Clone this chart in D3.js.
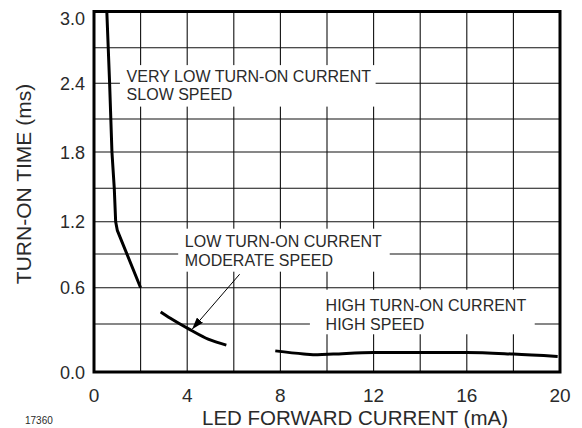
<!DOCTYPE html>
<html>
<head>
<meta charset="utf-8">
<script src="https://cdn.jsdelivr.net/npm/d3@7"></script>
<style>
  html, body { margin: 0; padding: 0; background: #fff; }
  svg { display: block; font-family: "Liberation Sans", Arial, Helvetica, sans-serif; }
</style>
</head>
<body>
<svg id="chart" width="582" height="428"></svg>
<script>
// ---- data ----
const xGrid = [0, 2, 4, 6, 8, 10, 12, 14, 16, 18, 20];
const yGrid = [0, 0.3, 0.6, 0.9, 1.2, 1.5, 1.8, 2.1, 2.4, 2.7, 3.0];
const xTickLabels = [0, 4, 8, 12, 16, 20];
const yTickLabels = [0, 0.6, 1.2, 1.8, 2.4, 3.0];

const veryLowCurrent = [[0.55, 3.0], [0.67, 2.4], [0.77, 1.8], [0.87, 1.5], [0.93, 1.2], [1.0, 1.12], [2.0, 0.6]];
const lowCurrent = [[2.86, 0.40], [3.28, 0.347], [4.14, 0.263], [4.9, 0.205], [5.68, 0.168]];
const highCurrent = [[7.78, 0.132], [9.0, 0.113], [9.6, 0.108], [10.27, 0.112], [12, 0.122], [16, 0.122], [18, 0.112], [19.9, 0.097]];

const annoLines1 = ["VERY LOW TURN-ON CURRENT", "SLOW SPEED"];
const annoLines2 = ["LOW TURN-ON CURRENT", "MODERATE SPEED"];
const annoLines3 = ["HIGH TURN-ON CURRENT", "HIGH SPEED"];
const annoAnchorX = [1.4, 3.9, 9.94];
const annoAnchorY = [2.41, 0.968, 0.41];
const arrowFrom = [6.25, 0.72];
const arrowTo = [4.21, 0.267];

const xTitle = "LED FORWARD CURRENT (mA)";
const yTitle = "TURN-ON TIME (ms)";
const figId = "17360";

// ---- layout ----
const svg = d3.select("#chart");
const x = d3.scaleLinear().domain([0, 20]).range([94, 560]);
// the printed grid is hand-spaced; piecewise-linear scale follows it
const y = d3.scaleLinear().domain(yGrid)
  .range([372, 324, 287.7, 254, 221.7, 188.3, 152, 119, 83.3, 47.7, 11.5]);

const ink = "#111";
const textInk = "#2a2a2a";

// grid
const g = svg.append("g");
g.selectAll("line.vg").data(xGrid.slice(1, -1)).join("line")
  .attr("x1", d => x(d)).attr("x2", d => x(d))
  .attr("y1", y(0)).attr("y2", y(3))
  .attr("stroke", ink).attr("stroke-width", 1.1);
g.selectAll("line.hg").data(yGrid.slice(1, -1)).join("line")
  .attr("x1", x(0)).attr("x2", x(20))
  .attr("y1", d => y(d)).attr("y2", d => y(d))
  .attr("stroke", ink).attr("stroke-width", 1.1);

// annotation boxes (white, masking the grid)
const annos = [annoLines1, annoLines2, annoLines3];
const pads = [[6.7, 4.3, 3, 3.5], [6.7, 7.6, 4, 3], [15.7, 8.3, 7, 1.6]];
const lineH = [18, 19, 19];
annos.forEach((lines, i) => {
  const ag = svg.append("g");
  const rect = ag.append("rect").attr("fill", "#fff");
  const t = ag.append("text")
    .attr("font-size", 16).attr("fill", textInk);
  lines.forEach((ln, j) => {
    t.append("tspan").attr("x", x(annoAnchorX[i]))
      .attr("y", y(annoAnchorY[i]) + j * lineH[i]).text(ln);
  });
  const bb = t.node().getBBox();
  const p = pads[i];
  rect.attr("x", bb.x - p[0]).attr("y", bb.y - p[2])
    .attr("width", bb.width + p[0] + p[1]).attr("height", bb.height + p[2] + p[3]);
});

// frame
svg.append("rect")
  .attr("x", x(0)).attr("y", y(3))
  .attr("width", x(20) - x(0)).attr("height", y(0) - y(3))
  .attr("fill", "none").attr("stroke", "#000").attr("stroke-width", 3);

// curves
const clip = svg.append("clipPath").attr("id", "plotclip").append("rect")
  .attr("x", x(0)).attr("y", y(3)).attr("width", x(20) - x(0)).attr("height", y(0) - y(3));
const lineLin = d3.line().x(d => x(d[0])).y(d => y(d[1]));
const lineSmooth = d3.line().x(d => x(d[0])).y(d => y(d[1])).curve(d3.curveMonotoneX);
const curves = svg.append("g").attr("clip-path", "url(#plotclip)");
curves.append("path").datum(veryLowCurrent).attr("d", lineLin)
  .attr("fill", "none").attr("stroke", "#000").attr("stroke-width", 3).attr("stroke-linejoin", "round");
curves.append("path").datum(lowCurrent).attr("d", lineSmooth)
  .attr("fill", "none").attr("stroke", "#000").attr("stroke-width", 3);
curves.append("path").datum(highCurrent).attr("d", lineSmooth)
  .attr("fill", "none").attr("stroke", "#000").attr("stroke-width", 3);

// arrow
svg.append("defs").append("marker")
  .attr("id", "arrowhead").attr("viewBox", "0 0 12 8")
  .attr("refX", 12).attr("refY", 4)
  .attr("markerWidth", 12).attr("markerHeight", 8)
  .attr("markerUnits", "userSpaceOnUse").attr("orient", "auto")
  .append("path").attr("d", "M0,0 L12,4 L0,8 Z").attr("fill", "#000");
svg.append("line")
  .attr("x1", x(arrowFrom[0])).attr("y1", y(arrowFrom[1]))
  .attr("x2", x(arrowTo[0])).attr("y2", y(arrowTo[1]))
  .attr("stroke", "#000").attr("stroke-width", 1)
  .attr("marker-end", "url(#arrowhead)");

// tick labels
svg.append("g").selectAll("text").data(xTickLabels).join("text")
  .attr("x", d => x(d)).attr("y", 401.5)
  .attr("text-anchor", "middle").attr("font-size", 19).attr("fill", textInk)
  .text(d => d);
svg.append("g").selectAll("text").data(yTickLabels).join("text")
  .attr("x", 85).attr("y", d => y(d) + (d === 3 ? 13.5 : 6.5))
  .attr("text-anchor", "end").attr("font-size", 18).attr("fill", textInk)
  .text(d => d.toFixed(1));

// titles
svg.append("text").attr("x", 355).attr("y", 424.5)
  .attr("text-anchor", "middle").attr("font-size", 20.5).attr("fill", textInk)
  .text(xTitle);
svg.append("text")
  .attr("transform", "translate(31,184) rotate(-90)")
  .attr("text-anchor", "middle").attr("font-size", 21).attr("fill", textInk)
  .text(yTitle);
svg.append("text").attr("x", 25).attr("y", 424)
  .attr("font-size", 10).attr("fill", textInk).text(figId);
</script>
</body>
</html>
